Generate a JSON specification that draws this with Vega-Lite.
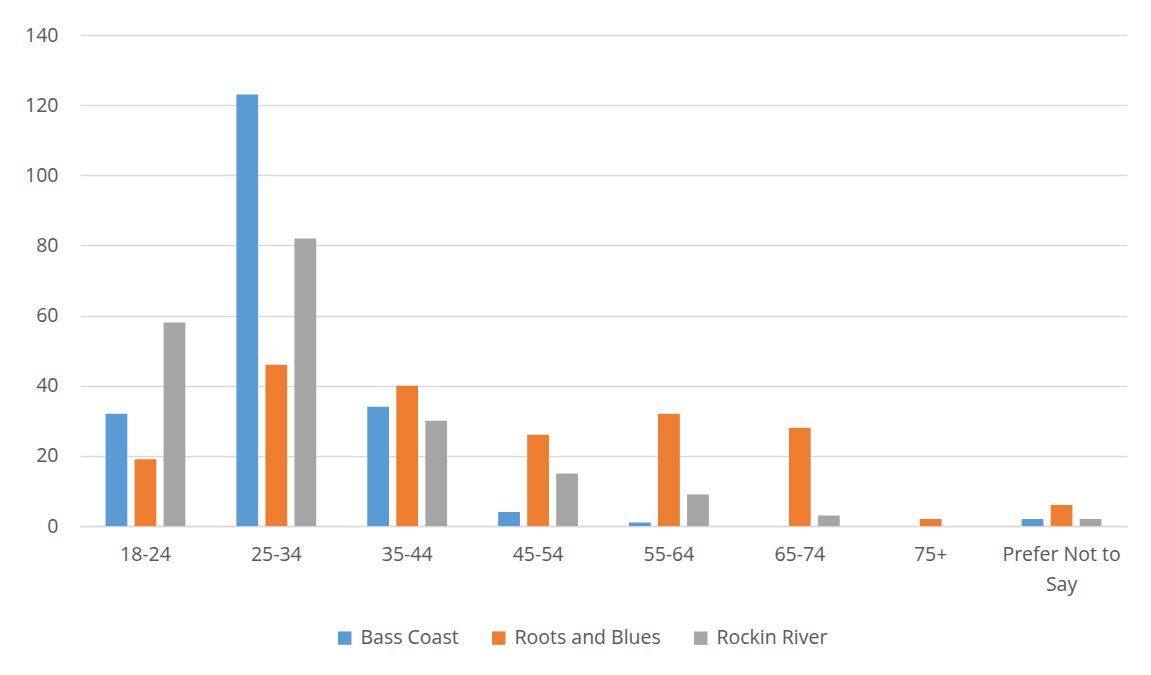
{
  "$schema": "https://vega.github.io/schema/vega-lite/v6.json",
  "width": 1047,
  "height": 491,
  "autosize": {"type": "none"},
  "padding": {"left": 80, "top": 35, "right": 24, "bottom": 149},
  "background": "white",
  "data": {
    "values": [
      {"age": "18-24", "festival": "Bass Coast", "count": 32},
      {"age": "18-24", "festival": "Roots and Blues", "count": 19},
      {"age": "18-24", "festival": "Rockin River", "count": 58},
      {"age": "25-34", "festival": "Bass Coast", "count": 123},
      {"age": "25-34", "festival": "Roots and Blues", "count": 46},
      {"age": "25-34", "festival": "Rockin River", "count": 82},
      {"age": "35-44", "festival": "Bass Coast", "count": 34},
      {"age": "35-44", "festival": "Roots and Blues", "count": 40},
      {"age": "35-44", "festival": "Rockin River", "count": 30},
      {"age": "45-54", "festival": "Bass Coast", "count": 4},
      {"age": "45-54", "festival": "Roots and Blues", "count": 26},
      {"age": "45-54", "festival": "Rockin River", "count": 15},
      {"age": "55-64", "festival": "Bass Coast", "count": 1},
      {"age": "55-64", "festival": "Roots and Blues", "count": 32},
      {"age": "55-64", "festival": "Rockin River", "count": 9},
      {"age": "65-74", "festival": "Bass Coast", "count": 0},
      {"age": "65-74", "festival": "Roots and Blues", "count": 28},
      {"age": "65-74", "festival": "Rockin River", "count": 3},
      {"age": "75+", "festival": "Bass Coast", "count": 0},
      {"age": "75+", "festival": "Roots and Blues", "count": 2},
      {"age": "75+", "festival": "Rockin River", "count": 0},
      {"age": "Prefer Not to Say", "festival": "Bass Coast", "count": 2},
      {"age": "Prefer Not to Say", "festival": "Roots and Blues", "count": 6},
      {"age": "Prefer Not to Say", "festival": "Rockin River", "count": 2}
    ]
  },
  "mark": {"type": "bar"},
  "encoding": {
    "x": {
      "field": "age",
      "type": "nominal",
      "sort": null,
      "scale": {"paddingInner": 0.39, "paddingOuter": 0.195},
      "axis": {
        "title": null,
        "labelAngle": 0,
        "labelFont": "Open Sans",
        "labelFontSize": 19.5,
        "labelColor": "#595959",
        "labelPadding": 19,
        "labelBaseline": "top",
        "labelLineHeight": 30,
        "labelExpr": "datum.value == 'Prefer Not to Say' ? ['Prefer Not to', 'Say'] : datum.value",
        "ticks": false,
        "domainColor": "#d9d9d9",
        "domainWidth": 1.5,
        "grid": false
      }
    },
    "xOffset": {
      "field": "festival",
      "type": "nominal",
      "sort": ["Bass Coast", "Roots and Blues", "Rockin River"],
      "scale": {"paddingInner": 0.25}
    },
    "y": {
      "field": "count",
      "type": "quantitative",
      "scale": {"domain": [0, 140]},
      "axis": {
        "title": null,
        "values": [0, 20, 40, 60, 80, 100, 120, 140],
        "labelFont": "Open Sans",
        "labelFontSize": 19.5,
        "labelColor": "#595959",
        "labelPadding": 22,
        "ticks": false,
        "domain": false,
        "gridColor": "#d9d9d9",
        "gridWidth": 1.5
      }
    },
    "color": {
      "field": "festival",
      "type": "nominal",
      "sort": ["Bass Coast", "Roots and Blues", "Rockin River"],
      "scale": {
        "domain": ["Bass Coast", "Roots and Blues", "Rockin River"],
        "range": ["#5b9bd5", "#ed7d31", "#a5a5a5"]
      },
      "legend": {
        "title": null,
        "orient": "none",
        "direction": "horizontal",
        "legendX": 255,
        "legendY": 593,
        "symbolType": "square",
        "symbolSize": 180,
        "symbolStrokeWidth": 0,
        "labelFont": "Open Sans",
        "labelFontSize": 19.5,
        "labelColor": "#595959",
        "columnPadding": 30,
        "labelOffset": 6
      }
    }
  },
  "config": {"view": {"stroke": null}}
}
